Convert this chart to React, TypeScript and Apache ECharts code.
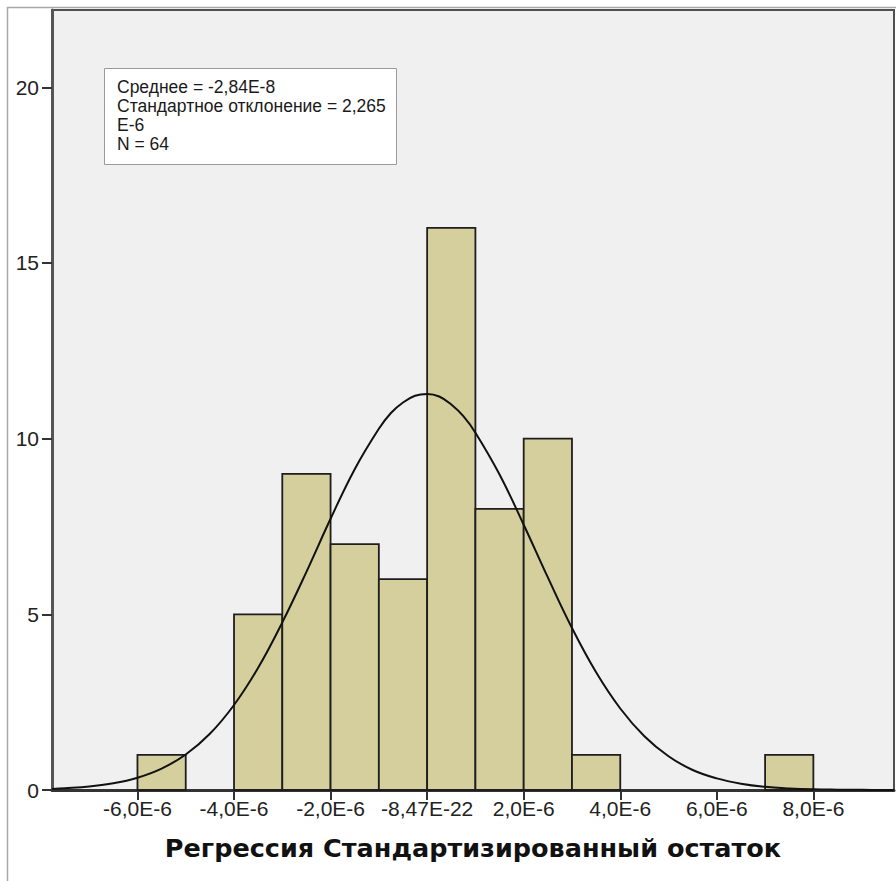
import React, { useEffect, useRef } from "react";
import * as echarts from "echarts";

// Histogram bins (x in units of 1E-6)
const binStarts = [-6, -4, -3, -2, -1, 0, 1, 2, 3, 7];
const binWidth = 1;
const counts = [1, 5, 9, 7, 6, 16, 8, 10, 1, 1];

// Normal curve (x in units of 1E-6)
const curveX = [-7.77, -7.5, -7, -6.5, -6, -5.5, -5, -4.5, -4, -3.5, -3, -2.5, -2, -1.5, -1, -0.75, -0.5, -0.25, 0, 0.25, 0.5, 0.75, 1, 1.5, 2, 2.5, 3, 3.5, 4, 4.5, 5, 5.5, 6, 6.5, 7, 7.5, 8, 8.5, 9, 9.67];
const curveY = [0.03, 0.05, 0.1, 0.19, 0.35, 0.61, 1.01, 1.6, 2.42, 3.48, 4.77, 6.21, 7.72, 9.13, 10.28, 10.73, 11.03, 11.22, 11.27, 11.2, 10.97, 10.64, 10.17, 8.98, 7.55, 6.05, 4.61, 3.35, 2.32, 1.53, 0.96, 0.57, 0.33, 0.18, 0.09, 0.045, 0.02, 0.01, 0.004, 0.001];

const xMin = -7.77;
const xMax = 9.67;
const yMin = 0;
const yMax = 22.2;
const xTickValues = [-6, -4, -2, 0, 2, 4, 6, 8];
const xTickLabels = ["-6,0E-6", "-4,0E-6", "-2,0E-6", "-8,47E-22", "2,0E-6", "4,0E-6", "6,0E-6", "8,0E-6"];
const yTickValues = [0, 5, 10, 15, 20];

const statsLines = ["Среднее = -2,84E-8", "Стандартное отклонение = 2,265", "E-6", "N = 64"];
const axisTitle = "Регрессия Стандартизированный остаток";

export default function App() {
  const ref = useRef<HTMLDivElement>(null);

  useEffect(() => {
    if (!ref.current) return;
    const chart = echarts.init(ref.current, null, { renderer: "svg" });

    const histData = binStarts.map((s, i) => [s, s + binWidth, counts[i]]);
    const curveData = curveX.map((x, i) => [x, curveY[i]]);

    const statsTexts = statsLines.map((t, i) => ({
      type: "text",
      x: 117,
      y: 87 + i * 19,
      style: {
        text: t,
        fontSize: 17.5,
        fontFamily: "Liberation Sans, Arial, sans-serif",
        fill: "#1a1a1a",
        textVerticalAlign: "middle",
        verticalAlign: "middle",
      },
      z: 101,
    }));

    chart.setOption({
      animation: false,
      backgroundColor: "#ffffff",
      grid: {
        left: 52,
        top: 10,
        right: 2,
        bottom: 91,
        show: true,
        backgroundColor: "#f0f0f0",
        borderColor: "#505050",
        borderWidth: 2,
      },
      xAxis: {
        type: "value",
        min: xMin,
        max: xMax,
        splitLine: { show: false },
        axisLine: { show: true, onZero: false, lineStyle: { color: "#333333", width: 3 } },
        axisTick: {
          show: true,
          length: 10,
          customValues: xTickValues,
          lineStyle: { color: "#333333", width: 2 },
        },
        axisLabel: {
          customValues: xTickValues,
          margin: 8,
          fontSize: 21,
          fontFamily: "Liberation Sans, Arial, sans-serif",
          color: "#222222",
          formatter: (v: number) => {
            const idx = xTickValues.findIndex((t) => Math.abs(t - v) < 1e-9);
            return idx >= 0 ? xTickLabels[idx] : "";
          },
        },
        name: axisTitle,
        nameLocation: "middle",
        nameGap: 45,
        nameTextStyle: {
          fontSize: 25.5,
          fontWeight: "bold",
          fontFamily: "DejaVu Sans, sans-serif",
          color: "#111111",
        },
      },
      yAxis: {
        type: "value",
        min: yMin,
        max: yMax,
        splitLine: { show: false },
        axisLine: { show: true, onZero: false, lineStyle: { color: "#555555", width: 3 } },
        axisTick: {
          show: true,
          length: 10,
          customValues: yTickValues,
          lineStyle: { color: "#333333", width: 2 },
        },
        axisLabel: {
          customValues: yTickValues,
          margin: 13,
          fontSize: 21,
          fontFamily: "Liberation Sans, Arial, sans-serif",
          color: "#222222",
        },
      },
      series: [
        {
          type: "custom",
          z: 2,
          data: histData,
          encode: { x: [0, 1], y: 2 },
          renderItem: (params: any, api: any) => {
            const x0 = api.value(0);
            const x1 = api.value(1);
            const c = api.value(2);
            const p0 = api.coord([x0, 0]);
            const p1 = api.coord([x1, c]);
            return {
              type: "rect",
              shape: { x: p0[0], y: p1[1], width: p1[0] - p0[0], height: p0[1] - p1[1] },
              style: { fill: "#d4cf9c", stroke: "#1e1e1e", lineWidth: 1.8 },
            };
          },
        },
        {
          type: "line",
          z: 3,
          data: curveData,
          smooth: 0.4,
          symbol: "none",
          lineStyle: { color: "#111111", width: 2 },
        },
      ],
      graphic: [
        {
          type: "line",
          shape: { x1: 7.5, y1: 7, x2: 7.5, y2: 881 },
          style: { stroke: "#a8a8a8", lineWidth: 1.5 },
          z: 100,
        },
        {
          type: "line",
          shape: { x1: 7, y1: 7.5, x2: 896, y2: 7.5 },
          style: { stroke: "#a8a8a8", lineWidth: 1.5 },
          z: 100,
        },
        {
          type: "rect",
          shape: { x: 104.5, y: 68.5, width: 292, height: 96 },
          style: { fill: "#ffffff", stroke: "#9a9a9a", lineWidth: 1 },
          z: 100,
        },
        ...statsTexts,
      ],
    });

    return () => {
      chart.dispose();
    };
  }, []);

  return (
    <div
      ref={ref}
      style={{ position: "fixed", left: 0, top: 0, width: 896, height: 881 }}
    />
  );
}
